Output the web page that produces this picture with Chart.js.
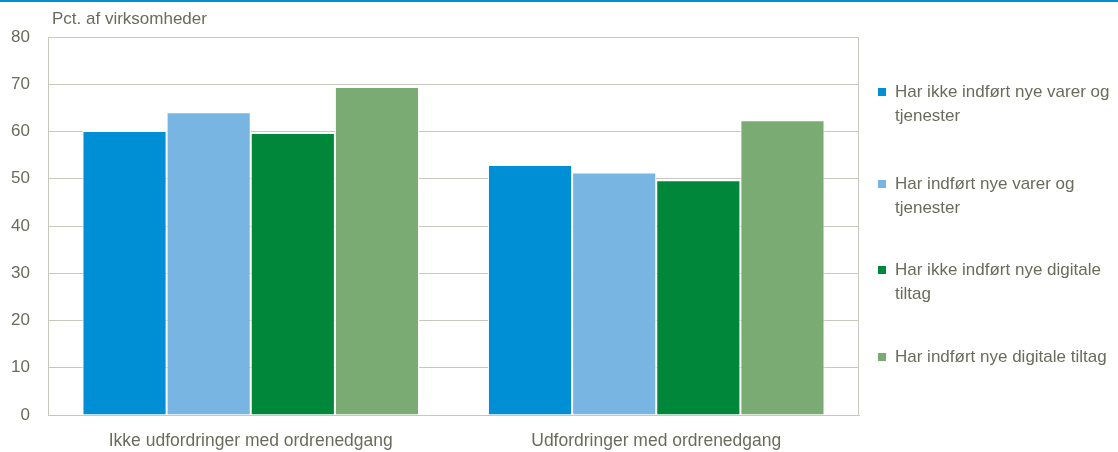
<!DOCTYPE html>
<html>
<head>
<meta charset="utf-8">
<script src="https://cdn.jsdelivr.net/npm/chart.js@4.4.0/dist/chart.umd.min.js"></script>
<style>
  html, body { margin: 0; padding: 0; background: #fff; }
  #wrap { width: 1118px; height: 452px; position: relative; }
</style>
</head>
<body>
<div id="wrap"><canvas id="myChart" width="1118" height="452"></canvas></div>
<script>
"use strict";

const categories = ["Ikke udfordringer med ordrenedgang", "Udfordringer med ordrenedgang"];
const seriesNames = [
   ["Har ikke indført nye varer og", "tjenester"],
   ["Har indført nye varer og", "tjenester"],
   ["Har ikke indført nye digitale", "tiltag"],
   ["Har indført nye digitale tiltag"],
];
const ikkeVarer = [60.1, 52.9];
const indfortVarer = [64.1, 51.3];
const ikkeDigitale = [59.7, 49.7];
const indfortDigitale = [69.4, 62.4];
const colors = ["#008fd5", "#78b5e3", "#00873a", "#7aab72"];

const textColor = "#6b6b5c";
const gridColor = "#c8c8be";
const fontFamily = "'Liberation Sans', Arial, sans-serif";

// legend + title + top line drawn by hand
const extrasPlugin = {
   id: "extras",
   afterDraw(chart) {
      const c = chart.ctx;
      const a = chart.chartArea;
      c.save();
      c.fillStyle = "#0090d4";
      c.fillRect(0, 0, chart.width, 2);

      c.strokeStyle = gridColor;
      c.lineWidth = 1;
      c.strokeRect(a.left + 0.5, a.top + 0.5, a.right - a.left - 1, a.bottom - a.top);

      c.fillStyle = textColor;
      c.font = "17px " + fontFamily;
      c.textBaseline = "middle";
      c.textAlign = "left";
      c.fillText("Pct. af virksomheder", 52, 19);

      const tops = [92, 184, 270, 357];
      chart.data.datasets.forEach((ds, i) => {
         const y = tops[i];
         c.fillStyle = ds.backgroundColor;
         c.fillRect(878, y - 4, 8, 8);
         c.fillStyle = textColor;
         ds.label.forEach((line, j) => {
            c.fillText(line, 895, y + j * 24);
         });
      });
      c.restore();
   },
};

const ctx = document.getElementById("myChart").getContext("2d");
const myChart = new Chart(ctx, {
   type: "bar",
   data: {
      labels: categories,
      datasets: [ikkeVarer, indfortVarer, ikkeDigitale, indfortDigitale].map((d, i) => ({
         label: seriesNames[i],
         data: d,
         backgroundColor: colors[i],
         borderColor: "#ffffff",
         borderWidth: 1,
      })),
   },
   options: {
      responsive: false,
      animation: false,
      layout: { padding: { top: 37, right: 259, left: 0, bottom: 0 } },
      plugins: {
         legend: { display: false },
         tooltip: { enabled: false },
      },
      datasets: {
         bar: { barPercentage: 1, categoryPercentage: 0.83 },
      },
      scales: {
         x: {
            grid: { display: false, drawTicks: false },
            border: { display: true, color: gridColor },
            ticks: { color: textColor, font: { family: fontFamily, size: 17.5 }, padding: 16 },
            afterFit(scale) { scale.height = 37; },
         },
         y: {
            min: 0,
            max: 80,
            grid: { color: gridColor, drawTicks: false },
            border: { display: true, color: gridColor },
            ticks: { stepSize: 10, color: textColor, font: { family: fontFamily, size: 17 }, padding: 18 },
            afterFit(scale) { scale.width = 48; },
         },
      },
   },
   plugins: [extrasPlugin],
});
</script>
</body>
</html>
